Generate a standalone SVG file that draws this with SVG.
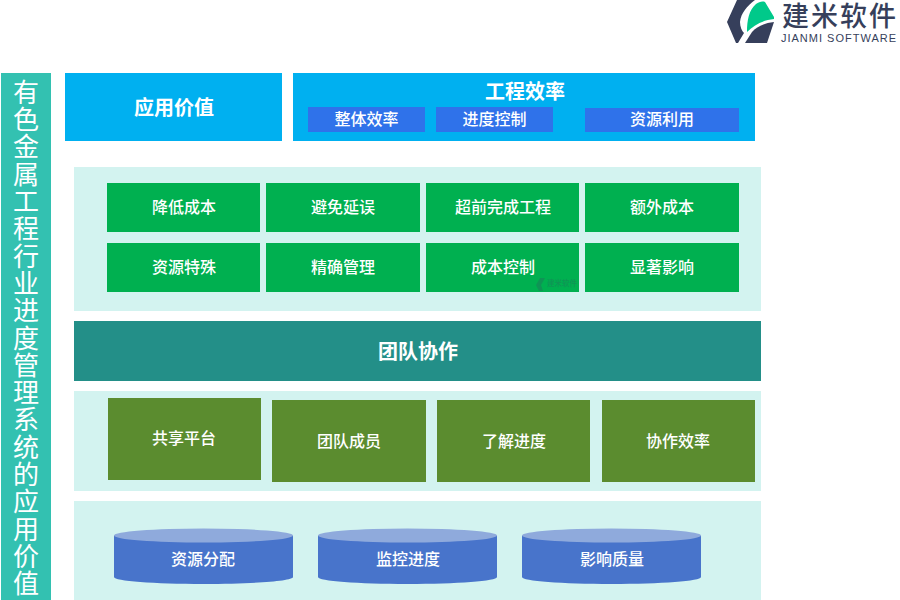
<svg xmlns="http://www.w3.org/2000/svg" width="900" height="600" viewBox="0 0 900 600">
<style>
text{font-family:"Noto Sans CJK SC","Liberation Sans",sans-serif;fill:#fff;text-anchor:middle;dominant-baseline:central;font-weight:500}
.s{font-size:16px}.m{font-size:20px;font-weight:700}
.blue{fill:#00b0f0}.sub{fill:#2f72ea}.pale{fill:#d3f3f0}.gr{fill:#00b050}.ol{fill:#5b8c2f}.cy{fill:#4874cb}.top{fill:#8faadc}
</style>
<rect width="900" height="600" fill="#fff"/>
<g id="logo">
<path d="M727 22L737 0H755C747 6 741 13 740 22C740 27 742 31 744 33L738 43H736Z" fill="#363f5b"/>
<path d="M747 32C747 20 749 10 756 4C759 2 762 1 765 2L774 17V19C764 20 755 24 747 32Z" fill="#00c98a"/>
<path d="M745 43L752 32C757 26 765 23 774 22L767 43Z" fill="#363f5b"/>
<text x="840" y="14" style="fill:#363f5b;font-size:27px;letter-spacing:2px">建米软件</text>
<text x="839" y="38" style="fill:#363f5b;font-size:11px;letter-spacing:1px;font-family:'Liberation Sans',sans-serif">JIANMI SOFTWARE</text>
</g>
<g id="side-title">
<rect x="1" y="73" width="50" height="527" fill="#33c1b1"/>
<text x="26" y="79" style="writing-mode:vertical-rl;text-anchor:start;font-size:26px;letter-spacing:1.3px;font-weight:400">有色金属工程行业进度管理系统的应用价值</text>
</g>
<g id="app-value"><rect class="blue" x="65" y="73" width="217" height="68"/><text class="m" x="174" y="106">应用价值</text></g>
<g id="efficiency"><rect class="blue" x="293" y="73" width="462" height="68"/><text class="m" x="525" y="90">工程效率</text></g>
<g id="eff-1"><rect class="sub" x="308" y="107" width="117" height="25"/><text class="s" x="366.500" y="118">整体效率</text></g>
<g id="eff-2"><rect class="sub" x="436" y="107" width="117" height="25"/><text class="s" x="494.500" y="118">进度控制</text></g>
<g id="eff-3"><rect class="sub" x="585" y="108" width="154" height="24"/><text class="s" x="662" y="118">资源利用</text></g>
<rect class="pale" x="74" y="167" width="687" height="144"/>
<g id="g1"><rect class="gr" x="107" y="183" width="153" height="49"/><text class="s" x="184" y="206">降低成本</text></g>
<g id="g2"><rect class="gr" x="266" y="183" width="154" height="49"/><text class="s" x="343" y="206">避免延误</text></g>
<g id="g3"><rect class="gr" x="426" y="183" width="153" height="49"/><text class="s" x="503" y="206">超前完成工程</text></g>
<g id="g4"><rect class="gr" x="585" y="183" width="154" height="49"/><text class="s" x="662" y="206">额外成本</text></g>
<g id="g5"><rect class="gr" x="107" y="243" width="153" height="49"/><text class="s" x="184" y="266">资源特殊</text></g>
<g id="g6"><rect class="gr" x="266" y="243" width="154" height="49"/><text class="s" x="343" y="266">精确管理</text></g>
<g id="g7"><rect class="gr" x="426" y="243" width="153" height="49"/><text class="s" x="503" y="266">成本控制</text></g>
<g id="g8"><rect class="gr" x="585" y="243" width="154" height="49"/><text class="s" x="662" y="266">显著影响</text></g>
<g id="watermark" opacity=".5"><path d="M536 285L540 278H545L541 285L543 291H539Z" fill="#1f7a5a"/><text x="562" y="282" style="fill:#1f7a5a;font-size:7.500px">建米软件</text></g>
<g id="team"><rect x="74" y="321" width="687" height="60" fill="#238f88"/><text class="m" x="418" y="350">团队协作</text></g>
<rect class="pale" x="74" y="391" width="687" height="100"/>
<g id="o1"><rect class="ol" x="108" y="398" width="153" height="82"/><text class="s" x="184" y="437">共享平台</text></g>
<g id="o2"><rect class="ol" x="272" y="400" width="154" height="82"/><text class="s" x="349" y="440">团队成员</text></g>
<g id="o3"><rect class="ol" x="437" y="400" width="153" height="82"/><text class="s" x="514" y="440">了解进度</text></g>
<g id="o4"><rect class="ol" x="602" y="400" width="153" height="82"/><text class="s" x="678" y="440">协作效率</text></g>
<rect class="pale" x="74" y="501" width="687" height="99"/>
<g id="c1"><path class="cy" d="M114 535.500V577C114 581 154 584 203.500 584S293 581 293 577V535.500Z"/><ellipse class="top" cx="203.500" cy="535.500" rx="89.500" ry="7"/><text class="s" x="203" y="558">资源分配</text></g>
<g id="c2"><path class="cy" d="M318 535.500V577C318 581 358 584 407.500 584S497 581 497 577V535.500Z"/><ellipse class="top" cx="407.500" cy="535.500" rx="89.500" ry="7"/><text class="s" x="408" y="558">监控进度</text></g>
<g id="c3"><path class="cy" d="M522 535.500V577C522 581 562 584 611.500 584S701 581 701 577V535.500Z"/><ellipse class="top" cx="611.500" cy="535.500" rx="89.500" ry="7"/><text class="s" x="612" y="558">影响质量</text></g>
</svg>
